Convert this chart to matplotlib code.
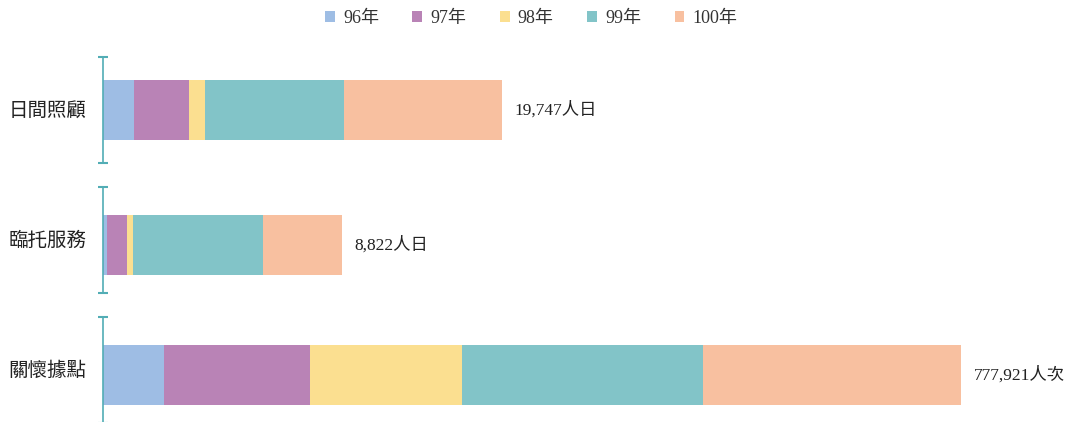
import numpy as np
import matplotlib.pyplot as plt

#--- DATA ---#

categories = ["日間照顧", "臨托服務", "關懷據點"]
years = ["96年", "97年", "98年", "99年", "100年"]
# yearly values per service (rows follow categories, columns follow years)
v_day = [1520, 2724, 792, 6885, 7826]
v_respite = [137, 739, 233, 4805, 2908]
v_point = [55300, 132380, 137820, 218510, 233911]
totals = ["19,747人日", "8,822人日", "777,921人次"]
# each service has its own x scale
x_max = [47944, 35776, 877650]

#--- STYLE ---#

cols = ["#9ebde4", "#b983b6", "#fbdf90", "#82c4c8", "#f8c0a0"]
axis_col = "#52adb5"
cjk = "Noto Sans CJK TC"
num_font = ["Liberation Serif", cjk]

W, H = 1071, 422
fig = plt.figure(figsize=(W/100, H/100), dpi=100)

# axes boxes in pixels: (top, bottom), and bar centre shift inside each box
rows = [(57, 163), (187, 293), (317, 423)]
shift = [0, -5/106, -5/106]
left_px = 103

handles = []
for k, (vals, lab, tot, xm) in enumerate(zip([v_day, v_respite, v_point], categories, totals, x_max)):
    top, bot = rows[k]
    ax = fig.add_axes([left_px/W, 1 - bot/H, (W - left_px)/W, (bot - top)/H])
    start = 0
    for i, v in enumerate(vals):
        b = ax.barh(shift[k], v, left=start, height=60/106, color=cols[i], linewidth=0, label=years[i])
        if k == 0:
            handles.append(b)
        start += v
    ax.set_xlim(0, xm)
    ax.set_ylim(-0.5, 0.5)
    for s in ["top", "right", "bottom"]:
        ax.spines[s].set_visible(False)
    ax.spines["left"].set_color(axis_col)
    ax.spines["left"].set_linewidth(1.2)
    ax.set_xticks([])
    ax.set_yticks([-0.5, 0.5])
    ax.set_yticklabels([])
    ax.tick_params(axis="y", direction="inout", length=7, width=1.5, color=axis_col)
    ax.patch.set_alpha(0)

    ax.annotate(lab, xy=(0, 0.5), xycoords="axes fraction", xytext=(-12, 0),
                textcoords="offset points", ha="right", va="center",
                fontsize=14, family=cjk, color="#222222")
    ax.annotate(tot, xy=(start, shift[k]), xytext=(9, 0), textcoords="offset points",
                ha="left", va="center", fontsize=12.5, family=num_font, color="#222222")

leg = fig.legend(handles=handles, labels=years, loc="upper center", bbox_to_anchor=(0.496, 1.015),
                 ncol=5, frameon=False, handlelength=0.55, handleheight=0.55,
                 handletextpad=0.45, columnspacing=1.85,
                 prop={"family": num_font, "size": 13})
for t in leg.get_texts():
    t.set_color("#333333")

plt.savefig("out.png", dpi=100)
